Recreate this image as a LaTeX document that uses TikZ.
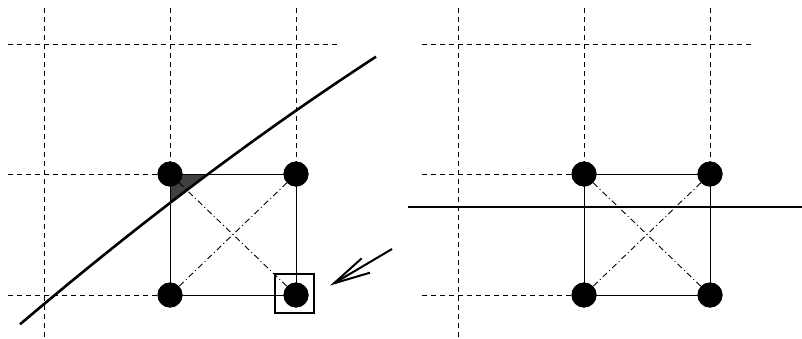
\documentclass[tikz,border=0pt]{standalone}
\begin{document}
\begin{tikzpicture}[x=1pt,y=-1pt,
  gridline/.style={line width=0.9pt,dash pattern=on 5pt off 4pt},
  edgeline/.style={line width=1pt},
  diagline/.style={line width=0.9pt,dash pattern=on 6pt off 3pt on 1pt off 3pt},
  thickline/.style={line width=2.6pt},
  dot/.style={circle,fill=black,inner sep=0pt,minimum size=25pt},
  marker/.style={draw,line width=2pt,inner sep=0pt,minimum size=39pt}]
\useasboundingbox (0,0) rectangle (802,338);

% ---------- left panel ----------
\fill[black!75] (170,174) -- (207.5,174) -- (170,203.5) -- cycle;
\coordinate (LvA0) at (44,8);   \coordinate (LvA1) at (44,337);
\coordinate (LvB0) at (170,8);  \coordinate (LvC0) at (296,8);
\coordinate (LhT0) at (8,44);   \coordinate (LhT1) at (338,44);
\coordinate (LhM0) at (8,174);  \coordinate (LhB0) at (8,295);
\node[dot] (L1) at (170,174) {};
\node[dot] (L2) at (296,174) {};
\node[dot] (L3) at (170,295) {};
\node[dot] (L4) at (296,295) {};
\draw[gridline] (LvA0) -- (LvA1);
\draw[gridline] (LvB0) -- (L1.center);
\draw[gridline] (LvC0) -- (L2.center);
\draw[gridline] (LhT0) -- (LhT1);
\draw[gridline] (LhM0) -- (L1.center);
\draw[gridline] (LhB0) -- (L3.center);
\draw[edgeline] (L1.center) -- (L2.center) -- (L4.center) -- (L3.center) -- (L1.center);
\draw[diagline] (L1) -- (L4);
\draw[diagline] (L2) -- (L3);
\node[dot] at (L1) {};
\node[dot] at (L2) {};
\node[dot] at (L3) {};
\node[dot] at (L4) {};
\node[marker] (M) at (294,293) {};
\coordinate (S0) at (20,324.3);
\coordinate (SC1) at (140.7,221.8);
\coordinate (SC2) at (259.3,132.6);
\coordinate (S2) at (376,56.7);
\draw[thickline] (S0) .. controls (SC1) and (SC2) .. (S2);
% arrow
\coordinate (Atail) at (392,249);
\coordinate (Atip) at (334,283.3);
\coordinate (Ab1) at (361.7,258.3);
\coordinate (Ab2) at (370,272.7);
\draw[line width=2pt,line join=miter] (Atail) -- (Atip);
\draw[line width=2pt,line join=miter] (Ab1) -- (Atip) -- (Ab2);

% ---------- right panel ----------
\coordinate (RvA0) at (458,8);   \coordinate (RvA1) at (458,337);
\coordinate (RvB0) at (584,8);  \coordinate (RvC0) at (710,8);
\coordinate (RhT0) at (422,44);   \coordinate (RhT1) at (752,44);
\coordinate (RhM0) at (422,174);  \coordinate (RhB0) at (422,295);
\node[dot] (R1) at (584,174) {};
\node[dot] (R2) at (710,174) {};
\node[dot] (R3) at (584,295) {};
\node[dot] (R4) at (710,295) {};
\draw[gridline] (RvA0) -- (RvA1);
\draw[gridline] (RvB0) -- (R1.center);
\draw[gridline] (RvC0) -- (R2.center);
\draw[gridline] (RhT0) -- (RhT1);
\draw[gridline] (RhM0) -- (R1.center);
\draw[gridline] (RhB0) -- (R3.center);
\draw[edgeline] (R1.center) -- (R2.center) -- (R4.center) -- (R3.center) -- (R1.center);
\draw[diagline] (R1) -- (R4);
\draw[diagline] (R2) -- (R3);
\node[dot] at (R1) {};
\node[dot] at (R2) {};
\node[dot] at (R3) {};
\node[dot] at (R4) {};
\coordinate (H0) at (408,207);
\coordinate (H1) at (802,207);
\draw[thickline] (H0) -- (H1);
\end{tikzpicture}
\end{document}
